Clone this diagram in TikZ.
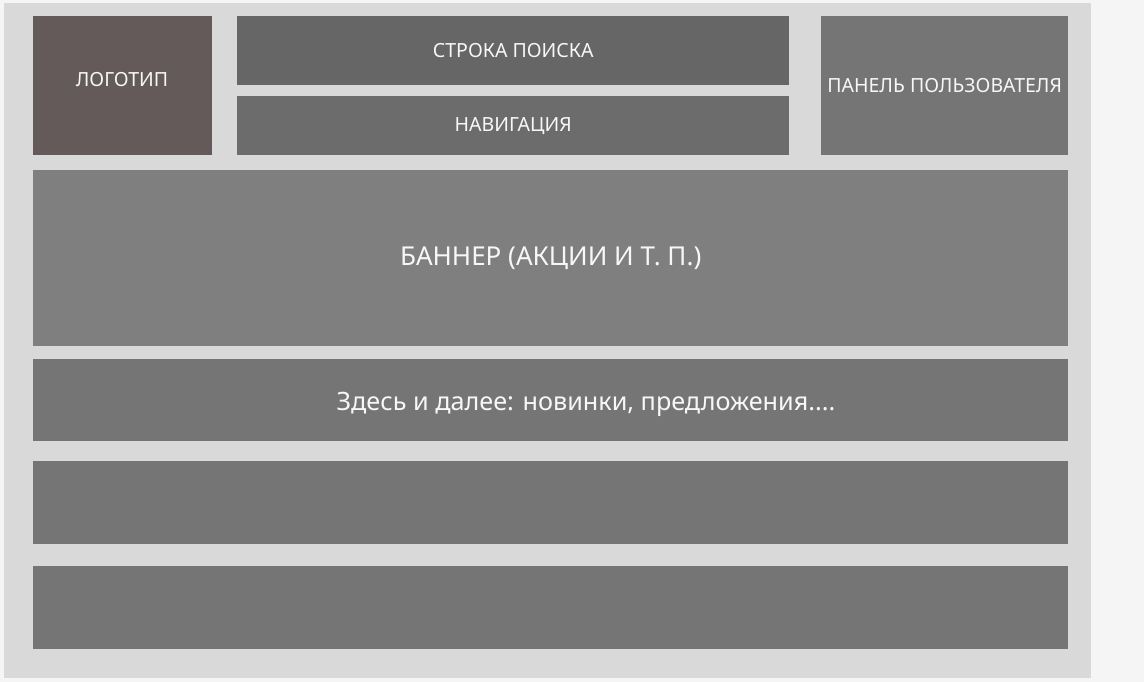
\documentclass[tikz,border=0pt]{standalone}
\usepackage{fontspec}
\setmainfont{Noto Sans}
\definecolor{pagebg}{HTML}{F5F5F5}
\definecolor{framebg}{HTML}{D9D9D9}
\definecolor{logobg}{HTML}{645A59}
\definecolor{searchbg}{HTML}{666666}
\definecolor{navbg}{HTML}{6C6C6C}
\definecolor{userbg}{HTML}{757575}
\definecolor{bannerbg}{HTML}{7F7F7F}
\definecolor{rowbg}{HTML}{757575}
\definecolor{boxtext}{HTML}{F7F7F7}
\def\small#1{\fontsize{#1}{#1}\selectfont}
\begin{document}
\begin{tikzpicture}[x=1pt, y=-1pt,
  block/.style={anchor=north west, inner sep=0pt, text=boxtext, font=\small{19.5}}]
\fill [pagebg] (0,0) rectangle (1144,682);
\useasboundingbox (0,0) rectangle (1144,682);
\node (FRAME) at (4,3) [block, fill=framebg, minimum width=1087pt, minimum height=675pt] {};
\node (LOGO) at (33,16) [block, fill=logobg, minimum width=179pt, minimum height=139pt] {};
\node (SEARCH) at (237,16) [block, fill=searchbg, minimum width=552pt, minimum height=69pt] {СТРОКА ПОИСКА};
\node (NAV) at (237,96) [block, fill=navbg, minimum width=552pt, minimum height=59pt] {НАВИГАЦИЯ};
\node (USER) at (821,16) [block, fill=userbg, minimum width=247pt, minimum height=139pt] {ПАНЕЛЬ ПОЛЬЗОВАТЕЛЯ};
\node (BANNER) at (33,170) [block, fill=bannerbg, minimum width=1035pt, minimum height=176pt, font=\small{26}] {БАННЕР (АКЦИИ И Т. П.)};
\node (ROWA) at (33,359) [block, fill=rowbg, minimum width=1035pt, minimum height=82pt] {};
\node (ROWB) at (33,461) [block, fill=rowbg, minimum width=1035pt, minimum height=83pt] {};
\node (ROWC) at (33,566) [block, fill=rowbg, minimum width=1035pt, minimum height=83pt] {};
\node (LOGOTXT) at (122,80) [text=boxtext, font=\small{19.5}] {ЛОГОТИП};
\node (MORE) at (586,404) [text=boxtext, font=\small{25.2}] {Здесь и далее: новинки, предложения....};
\end{tikzpicture}
\end{document}
